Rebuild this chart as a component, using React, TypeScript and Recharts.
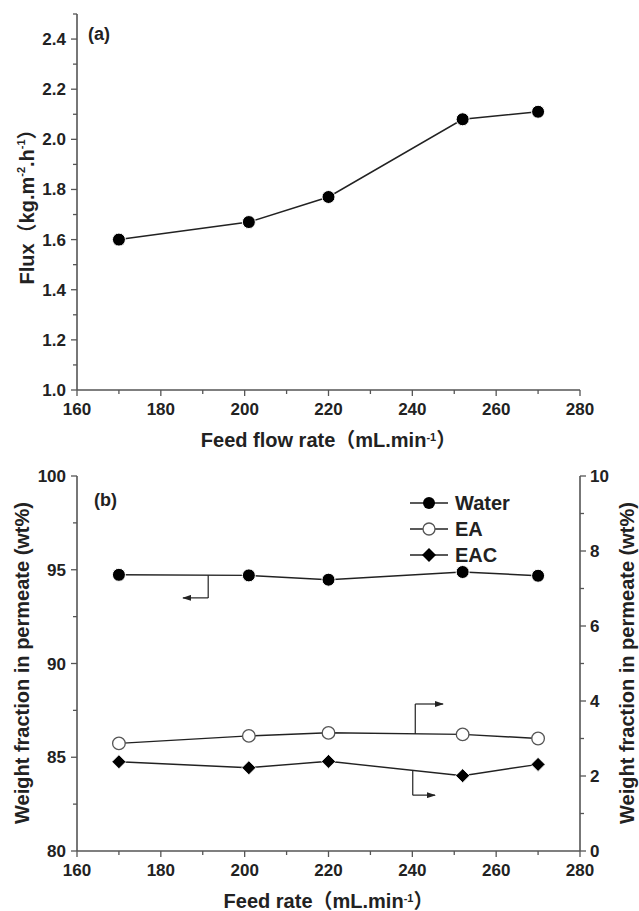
import React from 'react';
import { LineChart, Line, XAxis, YAxis, ReferenceLine, Legend } from 'recharts';

// ---------- data ----------
const flowRates = [170, 201, 220, 252, 270];
const flux = [1.6, 1.67, 1.77, 2.08, 2.11];

const feedRates = [170, 201, 220, 252, 270];
const water = [94.73, 94.7, 94.47, 94.88, 94.68];
const ea = [2.87, 3.07, 3.15, 3.11, 3.0];
const eac = [2.38, 2.22, 2.39, 2.01, 2.31];

const xTicks = [160, 170, 180, 190, 200, 210, 220, 230, 240, 250, 260, 270, 280];
const fluxTicks = [1.0, 1.1, 1.2, 1.3, 1.4, 1.5, 1.6, 1.7, 1.8, 1.9, 2.0, 2.1, 2.2, 2.3, 2.4, 2.5];
const leftTicks = [80, 82.5, 85, 87.5, 90, 92.5, 95, 97.5, 100];
const rightTicks = [0, 1, 2, 3, 4, 5, 6, 7, 8, 9, 10];

// annotation arrows (data units): [x (vertical stem), y start, y corner, x tip]
const waterArrow = [191.3, 94.71, 93.5, 185.3];
const eaArrow = [240.7, 3.12, 3.92, 247.3];
const eacArrow = [240.1, 2.15, 1.49, 245.4];

const topData = flowRates.map((x, i) => ({ x, flux: flux[i] }));
const bottomData = feedRates.map((x, i) => ({ x, water: water[i], ea: ea[i], eac: eac[i] }));

// ---------- styles ----------
const FONT = '"Liberation Sans", Arial, "Noto Sans CJK SC", sans-serif';
const AXIS = '#555';
const LINE = '#222';
const TICK_SIZE = 6;
const TICK_FONT = 17;

const XTick = (props: any) => {
  const { x, y, payload } = props;
  const v = payload.value;
  const major = v % 20 === 0;
  const ay = y - TICK_SIZE;
  return (
    <g>
      <line x1={x} x2={x} y1={ay} y2={ay + (major ? 6 : 4)} stroke={AXIS} strokeWidth={1.3} />
      {major && (
        <text x={x} y={ay + 25} textAnchor="middle" fontFamily={FONT} fontWeight="bold" fontSize={TICK_FONT} fill="#222">
          {v}
        </text>
      )}
    </g>
  );
};

const makeLeftTick = (isMajor: (v: number) => boolean, fmt: (v: number) => string) => (props: any) => {
  const { x, y, payload } = props;
  const v = payload.value;
  const major = isMajor(v);
  const ax = x + TICK_SIZE;
  return (
    <g>
      <line x1={ax} x2={ax - (major ? 6 : 4)} y1={y} y2={y} stroke={AXIS} strokeWidth={1.3} />
      {major && (
        <text x={ax - 11} y={y} dy={6} textAnchor="end" fontFamily={FONT} fontWeight="bold" fontSize={TICK_FONT} fill="#222">
          {fmt(v)}
        </text>
      )}
    </g>
  );
};

const makeRightTick = (isMajor: (v: number) => boolean, fmt: (v: number) => string) => (props: any) => {
  const { x, y, payload } = props;
  const v = payload.value;
  const major = isMajor(v);
  const ax = x - TICK_SIZE;
  return (
    <g>
      <line x1={ax} x2={ax + (major ? 6 : 4)} y1={y} y2={y} stroke={AXIS} strokeWidth={1.3} />
      {major && (
        <text x={ax + 10} y={y} dy={6} textAnchor="start" fontFamily={FONT} fontWeight="bold" fontSize={TICK_FONT} fill="#222">
          {fmt(v)}
        </text>
      )}
    </g>
  );
};

const FluxTick = makeLeftTick((v) => Math.round(v * 10) % 2 === 0, (v) => v.toFixed(1));
const LeftTick = makeLeftTick((v) => v % 5 === 0, (v) => String(v));
const RightTick = makeRightTick((v) => v % 2 === 0, (v) => String(v));

const Sup = ({ children }: any) => (
  <tspan baselineShift="super" fontSize={11}>
    {children}
  </tspan>
);

const titleStyle = { fontFamily: FONT, fontWeight: 'bold' as const, fontSize: 20, fill: '#222' };

const Diamond = (props: any) => {
  const { cx, cy } = props;
  if (cx == null || cy == null) return null;
  const s = 7;
  return <path d={`M${cx},${cy - s} L${cx + s},${cy} L${cx},${cy + s} L${cx - s},${cy} Z`} fill="#000" stroke="#fff" strokeWidth={0.8} />;
};

const LegendContent = () => {
  const rows = [
    { name: 'Water', kind: 'filled' },
    { name: 'EA', kind: 'open' },
    { name: 'EAC', kind: 'diamond' },
  ];
  return (
    <svg width={130} height={80} style={{ display: 'block' }}>
      {rows.map((r, i) => {
        const cy = 12 + i * 26;
        return (
          <g key={r.name}>
            <line x1={2} x2={40} y1={cy} y2={cy} stroke={LINE} strokeWidth={1.5} />
            {r.kind === 'filled' && <circle cx={21} cy={cy} r={6} fill="#000" />}
            {r.kind === 'open' && <circle cx={21} cy={cy} r={6} fill="#fff" stroke="#555" strokeWidth={1.3} />}
            {r.kind === 'diamond' && (
              <path d={`M21,${cy - 7} L28,${cy} L21,${cy + 7} L14,${cy} Z`} fill="#000" />
            )}
            <text x={47} y={cy} dy={7} fontFamily={FONT} fontWeight="bold" fontSize={20} fill="#222">
              {r.name}
            </text>
          </g>
        );
      })}
    </svg>
  );
};

const arrowLines = (a: number[], axisId: string, key: string) => {
  const [x1, y1, y2, x3] = a;
  return [
    <ReferenceLine
      key={key + 'v'}
      yAxisId={axisId}
      segment={[
        { x: x1, y: y1 },
        { x: x1, y: y2 },
      ]}
      stroke={LINE}
      strokeWidth={1.2}
    />,
    <ReferenceLine
      key={key + 'h'}
      yAxisId={axisId}
      segment={[
        { x: x1, y: y2 },
        { x: x3, y: y2 },
      ]}
      stroke={LINE}
      strokeWidth={1.2}
      markerEnd="url(#arrowHead)"
    />,
  ];
};

export default function App() {
  return (
    <div style={{ position: 'absolute', left: 0, top: 0, width: 639, height: 911, background: '#fff' }}>
      <LineChart width={639} height={455} data={topData} margin={{ top: 14, right: 59, bottom: 0, left: 0 }}>
        <XAxis
          dataKey="x"
          type="number"
          domain={[160, 280]}
          ticks={xTicks}
          interval={0}
          height={65}
          tickSize={TICK_SIZE}
          tickMargin={0}
          tickLine={false}
          tick={<XTick />}
          axisLine={{ stroke: AXIS, strokeWidth: 1.6 }}
          label={{
            content: () => (
              <text x={328.5} y={447} textAnchor="middle" {...titleStyle}>
                Feed flow rate（mL.min<Sup>-1</Sup>）
              </text>
            ),
          }}
        />
        <XAxis xAxisId="top" orientation="top" type="number" domain={[160, 280]} height={0} tick={false} tickLine={false} axisLine={{ stroke: AXIS, strokeWidth: 1.6 }} />
        <YAxis
          type="number"
          domain={[1.0, 2.5]}
          ticks={fluxTicks}
          interval={0}
          width={77}
          tickSize={TICK_SIZE}
          tickMargin={0}
          tickLine={false}
          tick={<FluxTick />}
          axisLine={{ stroke: AXIS, strokeWidth: 1.6 }}
          label={{
            content: () => (
              <g>
                <text x={27} y={202} textAnchor="middle" dominantBaseline="central" transform="rotate(-90 27 202)" {...titleStyle}>
                  Flux（kg.m<Sup>-2</Sup>.h<Sup>-1</Sup>）
                </text>
                <text x={88} y={40} fontFamily={FONT} fontWeight="bold" fontSize={18} fill="#222">
                  (a)
                </text>
              </g>
            ),
          }}
        />
        <YAxis yAxisId="r" orientation="right" width={0} tick={false} tickLine={false} axisLine={{ stroke: AXIS, strokeWidth: 1.6 }} />
        <Line
          dataKey="flux"
          stroke={LINE}
          strokeWidth={1.5}
          isAnimationActive={false}
          dot={{ r: 6.5, fill: '#000', stroke: '#fff', strokeWidth: 1 }}
          activeDot={false}
        />
      </LineChart>

      <LineChart width={639} height={456} data={bottomData} margin={{ top: 21, right: 0, bottom: 0, left: 0 }}>
        <defs>
          <marker id="arrowHead" markerWidth={9} markerHeight={6} refX={8} refY={3} orient="auto" markerUnits="userSpaceOnUse">
            <path d="M0,0 L9,3 L0,6 Z" fill="#222" />
          </marker>
        </defs>
        <XAxis
          dataKey="x"
          type="number"
          domain={[160, 280]}
          ticks={xTicks}
          interval={0}
          height={60}
          tickSize={TICK_SIZE}
          tickMargin={0}
          tickLine={false}
          tick={<XTick />}
          axisLine={{ stroke: AXIS, strokeWidth: 1.6 }}
          label={{
            content: () => (
              <text x={328.5} y={453} textAnchor="middle" {...titleStyle}>
                Feed rate（mL.min<Sup>-1</Sup>）
              </text>
            ),
          }}
        />
        <XAxis xAxisId="top" orientation="top" type="number" domain={[160, 280]} height={0} tick={false} tickLine={false} axisLine={{ stroke: AXIS, strokeWidth: 1.6 }} />
        <YAxis
          yAxisId="left"
          type="number"
          domain={[80, 100]}
          ticks={leftTicks}
          interval={0}
          width={77}
          tickSize={TICK_SIZE}
          tickMargin={0}
          tickLine={false}
          tick={<LeftTick />}
          axisLine={{ stroke: AXIS, strokeWidth: 1.6 }}
          label={{
            content: () => (
              <g>
                <text x={22} y={208} textAnchor="middle" dominantBaseline="central" transform="rotate(-90 22 208)" {...titleStyle}>
                  Weight fraction in permeate (wt%)
                </text>
                <text x={94} y={51} fontFamily={FONT} fontWeight="bold" fontSize={18} fill="#222">
                  (b)
                </text>
              </g>
            ),
          }}
        />
        <YAxis
          yAxisId="right"
          orientation="right"
          type="number"
          domain={[0, 10]}
          ticks={rightTicks}
          interval={0}
          width={59}
          tickSize={TICK_SIZE}
          tickMargin={0}
          tickLine={false}
          tick={<RightTick />}
          axisLine={{ stroke: AXIS, strokeWidth: 1.6 }}
          label={{
            content: () => (
              <text x={627} y={208} textAnchor="middle" dominantBaseline="central" transform="rotate(-90 627 208)" {...titleStyle}>
                Weight fraction in permeate (wt%)
              </text>
            ),
          }}
        />
        <Legend
          layout="vertical"
          align="center"
          verticalAlign="middle"
          content={<LegendContent />}
          wrapperStyle={{ left: 408, top: 36, width: 130, height: 80 }}
        />
        <Line
          yAxisId="left"
          dataKey="water"
          name="Water"
          stroke={LINE}
          strokeWidth={1.5}
          isAnimationActive={false}
          dot={{ r: 6.5, fill: '#000', stroke: '#fff', strokeWidth: 1 }}
          activeDot={false}
        />
        <Line
          yAxisId="right"
          dataKey="ea"
          name="EA"
          stroke={LINE}
          strokeWidth={1.5}
          isAnimationActive={false}
          dot={{ r: 6.3, fill: '#fff', stroke: '#555', strokeWidth: 1.3 }}
          activeDot={false}
        />
        <Line
          yAxisId="right"
          dataKey="eac"
          name="EAC"
          stroke={LINE}
          strokeWidth={1.5}
          isAnimationActive={false}
          dot={<Diamond />}
          activeDot={false}
        />
        {arrowLines(waterArrow, 'left', 'w')}
        {arrowLines(eaArrow, 'right', 'ea')}
        {arrowLines(eacArrow, 'right', 'eac')}
      </LineChart>
    </div>
  );
}
